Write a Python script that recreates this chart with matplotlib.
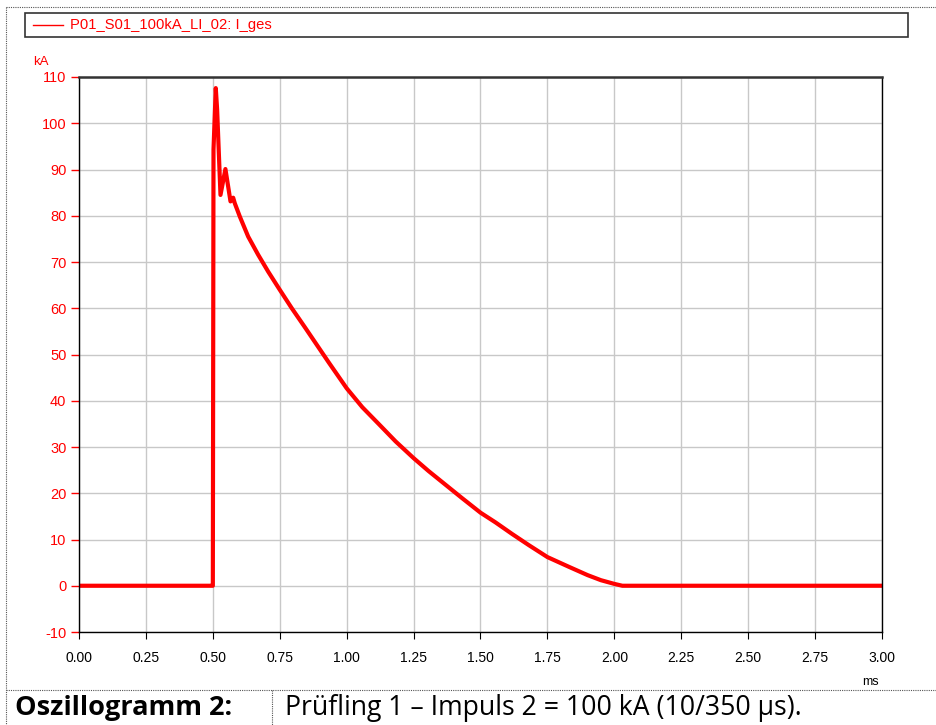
import matplotlib
matplotlib.use("Agg")
import matplotlib.pyplot as plt
from matplotlib.lines import Line2D
from matplotlib.patches import Rectangle

# values (time in ms, current in kA)
time_ms = [0.0, 0.4995, 0.5000, 0.5025, 0.511, 0.516, 0.5286, 0.547, 0.566, 0.576, 0.582,
           0.601, 0.632, 0.669, 0.707, 0.75, 0.795, 0.845, 0.934, 1.0, 1.0585,
           1.121, 1.183, 1.25, 1.306, 1.368, 1.43, 1.5, 1.556, 1.618, 1.68,
           1.75, 1.83, 1.9, 1.95, 2.0, 2.03, 3.0]
current_kA = [0.0, 0.0, 0.0, 94.3, 107.6, 103.0, 84.5, 90.1, 83.1, 83.9, 82.7,
              79.8, 75.5, 71.6, 67.9, 64.0, 60.0, 55.8, 48.2, 42.7, 38.6,
              34.9, 31.2, 27.6, 24.8, 21.9, 19.0, 15.8, 13.7, 11.2, 8.8,
              6.2, 4.1, 2.3, 1.2, 0.4, 0.0, 0.0]

x_ticks = [0.0, 0.25, 0.5, 0.75, 1.0, 1.25, 1.5, 1.75, 2.0, 2.25, 2.5, 2.75, 3.0]
y_ticks = [-10, 0, 10, 20, 30, 40, 50, 60, 70, 80, 90, 100, 110]

legend_label = "P01_S01_100kA_LI_02: I_ges"
caption_head = "Oszillogramm 2:"
caption_text = "Prüfling 1 – Impuls 2 = 100 kA (10/350 µs)."

W, H = 937, 725
fig = plt.figure(figsize=(W / 100, H / 100), dpi=100)
plt.rcParams['font.family'] = ['Liberation Sans', 'DejaVu Sans']
red = "#ff0000"


def fx(px):
    return px / W


def fy(py):
    return 1 - py / H


ax = fig.add_axes([fx(79), fy(632), fx(882) - fx(79), fy(77) - fy(632)])
ax.plot(time_ms, current_kA, color=red, lw=3.0, solid_joinstyle="round")

ax.set_xlim(0, 3)
ax.set_ylim(-10, 110)
ax.set_xticks(x_ticks)
ax.set_xticklabels(["%.2f" % t for t in x_ticks], fontsize=10)
ax.set_yticks(y_ticks)
ax.set_yticklabels([str(v) for v in y_ticks], fontsize=10.5, color=red)
ax.tick_params(axis="y", colors=red, length=6, width=1, direction="out", pad=3)
ax.tick_params(axis="x", colors="black", length=5, width=0.8, direction="out", pad=9)
ax.grid(True, color="#c8c8c8", lw=1)
ax.set_axisbelow(True)
for s in ["left", "bottom", "right"]:
    ax.spines[s].set_color("black")
    ax.spines[s].set_linewidth(1)
ax.spines["top"].set_color("#333333")
ax.spines["top"].set_linewidth(1.8)

fig.text(fx(33), fy(62), "kA", color=red, fontsize=9.5, va="center")
fig.text(fx(870), fy(682), "ms", color="black", fontsize=9, va="center", ha="center")

# legend box
fig.add_artist(Rectangle((fx(25), fy(37)), fx(908) - fx(25), fy(13) - fy(37),
                         transform=fig.transFigure, fill=False, ec="#333333", lw=1.2))
fig.add_artist(Line2D([fx(33), fx(63)], [fy(25), fy(25)], transform=fig.transFigure,
                      color=red, lw=1))
fig.text(fx(70), fy(25), legend_label, color=red, fontsize=10.6, va="center")

# dotted frame
dot = dict(transform=fig.transFigure, color="#555555", lw=0.8, ls=(0, (1, 1)))
fig.add_artist(Line2D([fx(6), fx(6)], [fy(7), 0], **dot))
fig.add_artist(Line2D([fx(6), 1], [fy(7), fy(7)], **dot))
fig.add_artist(Line2D([fx(6), 1], [fy(690), fy(690)], **dot))
fig.add_artist(Line2D([fx(272), fx(272)], [fy(690), 0], **dot))

fig.text(fx(15), fy(708), caption_head, fontsize=19.5, fontweight="bold",
         family=["Open Sans", "DejaVu Sans"], va="center")
fig.text(fx(285), fy(708), caption_text, fontsize=19.2,
         family=["Open Sans", "DejaVu Sans"], va="center")

fig.savefig("out.png", dpi=100)
